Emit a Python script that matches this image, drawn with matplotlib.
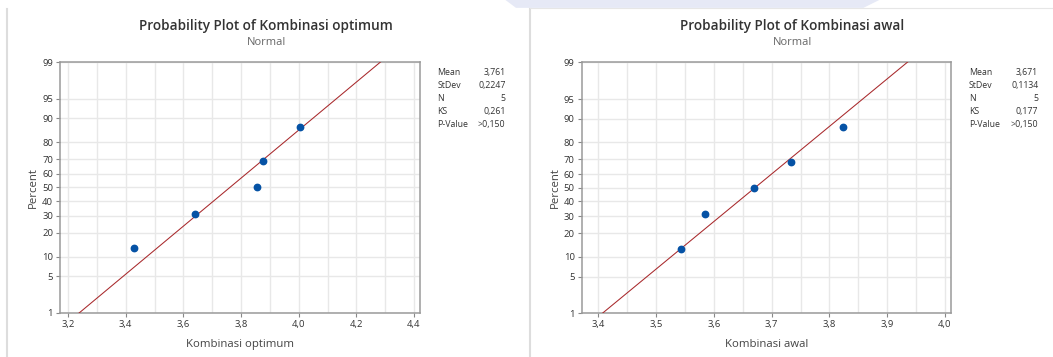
import numpy as np
import matplotlib
matplotlib.use("Agg")
import matplotlib.pyplot as plt
from matplotlib.patches import Polygon
from statistics import NormalDist

plt.rcParams['font.family'] = ['Open Sans', 'DejaVu Sans']

# data
optimum = [3.430, 3.640, 3.855, 3.875, 4.005]
awal = [3.543, 3.585, 3.669, 3.734, 3.824]
pct_ticks = [1, 5, 10, 20, 30, 40, 50, 60, 70, 80, 90, 95, 99]
stats_names = ["Mean", "StDev", "N", "KS", "P-Value"]
stats_optimum = ["3,761", "0,2247", "5", "0,261", ">0,150"]
stats_awal = ["3,671", "0,1134", "5", "0,177", ">0,150"]
mean_optimum, sd_optimum = 3.761, 0.2247
mean_awal, sd_awal = 3.671, 0.1134

nd = NormalDist()
_ppf = np.vectorize(lambda v: nd.inv_cdf(v / 100.0), otypes=[float])
_cdf = np.vectorize(lambda v: nd.cdf(v) * 100.0, otypes=[float])


def fwd(p):
    p = np.clip(np.asarray(p, dtype=float), 1e-6, 100 - 1e-6)
    return _ppf(p)


def inv(z):
    return _cdf(np.clip(np.asarray(z, dtype=float), -30, 30))


def fmt(v):
    return f"{v:.1f}".replace(".", ",")


def prob_plot(ax, data, mean, sd, xlim, xticks, xgrid, title, xlabel,
              names, vals, stat_x, fig):
    n = len(data)
    xs = np.sort(data)
    ranks = np.arange(1, n + 1)
    pct = (ranks - 0.3) / (n + 0.4) * 100

    ax.set_yscale('function', functions=(fwd, inv))
    ax.set_ylim(1, 99)
    ax.set_xlim(*xlim)

    # fitted line
    lp = np.array([0.3, 99.7])
    lx = mean + sd * fwd(lp)
    ax.plot(lx, lp, color='#a8282b', lw=0.75, zorder=3)
    ax.plot(xs, pct, 'o', color='#0552a5', ms=4.6, zorder=4)

    ax.set_xticks(xticks)
    ax.set_xticklabels([fmt(t) for t in xticks])
    ax.set_xticks(xgrid, minor=True)
    ax.set_yticks(pct_ticks)
    ax.set_yticklabels([str(t) for t in pct_ticks])
    ax.yaxis.set_minor_locator(matplotlib.ticker.NullLocator())
    ax.grid(True, which='both', axis='x', color='#e8e8e8', lw=1.0)
    ax.grid(True, which='major', axis='y', color='#e8e8e8', lw=1.0)
    ax.set_axisbelow(True)
    ax.tick_params(which='major', length=3, color='#888888', labelsize=6.8,
                   labelcolor='#333333', pad=2)
    ax.tick_params(which='minor', length=0)
    for s in ax.spines.values():
        s.set_color('#9a9a9a')
        s.set_linewidth(1.1)
    ax.set_xlabel(xlabel, fontsize=8.2, color='#444444', labelpad=7)
    ax.set_ylabel("Percent", fontsize=8.2, color='#444444', labelpad=2)

    pos = ax.get_position()
    cx = (pos.x0 + pos.x1) / 2 + 0.025
    fig.text(cx, 0.928, title, ha='center', va='center', fontsize=9.8,
             weight='semibold', color='#333333')
    fig.text(cx, 0.88, "Normal", ha='center', va='center', fontsize=8,
             color='#666666')

    y0 = 0.796
    for i, (a, b) in enumerate(zip(names, vals)):
        y = y0 - i * 0.0362
        fig.text(stat_x[0], y, a, ha='left', va='center', fontsize=6.3,
                 color='#333333')
        fig.text(stat_x[1], y, b, ha='right', va='center', fontsize=6.3,
                 color='#333333')


fig = plt.figure(figsize=(10.53, 3.57), dpi=100)
fig.patch.set_facecolor('white')

ax1 = fig.add_axes([0.0570, 0.1233, 0.3419, 0.7030])
ax2 = fig.add_axes([0.5524, 0.1225, 0.3504, 0.7030])

prob_plot(ax1, optimum, mean_optimum, sd_optimum, (3.172, 4.421),
          np.round(np.arange(3.2, 4.41, 0.2), 1),
          np.round(np.arange(3.2, 4.41, 0.1), 2),
          "Probability Plot of Kombinasi optimum", "Kombinasi optimum",
          stats_names, stats_optimum, (0.4155, 0.4800), fig)
prob_plot(ax2, awal, mean_awal, sd_awal, (3.3713, 4.0098),
          np.round(np.arange(3.4, 4.01, 0.1), 1),
          np.round(np.arange(3.4, 4.01, 0.05), 2),
          "Probability Plot of Kombinasi awal", "Kombinasi awal",
          stats_names, stats_awal, (0.9200, 0.9860), fig)

# page decoration: panel borders and the faint band at the top
fig.add_artist(plt.Line2D([0.0066, 0.0066], [0.0, 0.975], color='#dddddd',
                          lw=1.5, transform=fig.transFigure))
fig.add_artist(plt.Line2D([0.503, 0.503], [0.0, 0.975], color='#dddddd',
                          lw=1.5, transform=fig.transFigure))
fig.add_artist(plt.Line2D([0.503, 1.0], [0.978, 0.978], color='#e6e6e6',
                          lw=0.8, transform=fig.transFigure))
fig.add_artist(Polygon([[0.48, 1.0], [0.49, 0.978], [0.82, 0.978],
                        [0.835, 1.0]], closed=True, color='#e6e9f6',
                       transform=fig.transFigure, lw=0))

fig.savefig("out.png", dpi=100)
